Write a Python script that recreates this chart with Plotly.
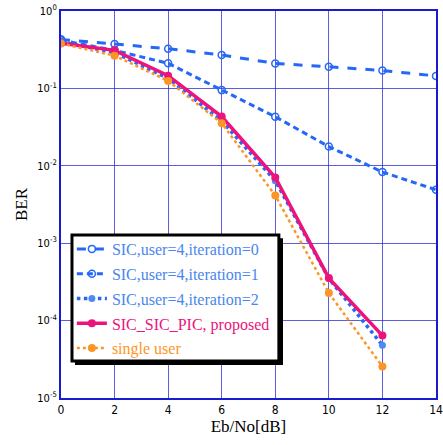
import plotly.graph_objects as go

x_full = [0, 2, 4, 6, 8, 10, 12, 14]
x_short = [0, 2, 4, 6, 8, 10, 12]
iter0 = [0.43, 0.375, 0.326, 0.27, 0.21, 0.19, 0.17, 0.145]
iter1 = [0.42, 0.31, 0.211, 0.095, 0.043, 0.0177, 0.0083, 0.0049]
iter2 = [0.40, 0.29, 0.135, 0.038, 0.0064, 3.5e-4, 4.8e-5]
proposed = [0.383, 0.31, 0.146, 0.0432, 0.00705, 3.54e-4, 6.4e-5]
single = [0.38, 0.265, 0.125, 0.0355, 0.00413, 2.27e-4, 2.55e-5]
names = ["SIC,user=4,iteration=0", "SIC,user=4,iteration=1", "SIC,user=4,iteration=2",
         "SIC_SIC_PIC, proposed", "single user"]

x_ticks = [0, 2, 4, 6, 8, 10, 12, 14]
y_ticks = [1, 1e-1, 1e-2, 1e-3, 1e-4, 1e-5]
y_ticktext = ["10<sup>0</sup>", "10<sup>-1</sup>", "10<sup>-2</sup>",
              "10<sup>-3</sup>", "10<sup>-4</sup>", "10<sup>-5</sup>"]

BLUE = "#2468f5"
BLUE_TXT = "#4a86f0"
PINK = "#ec137c"
ORANGE = "#fd9526"
GRID = "rgba(40,40,210,0.75)"


def lab(text, color):
    return f"<span style='color:{color}'>{text}</span>"


fig = go.Figure()
fig.add_trace(go.Scatter(x=x_full, y=iter0, mode="lines+markers",
                         name=lab(names[0], BLUE_TXT), legendgroup="a",
                         line=dict(color=BLUE, width=3, dash="dash"),
                         marker=dict(symbol="circle-open", size=7, color=BLUE, line=dict(width=1.5))))
fig.add_trace(go.Scatter(x=x_full, y=iter1, mode="lines+markers",
                         name=lab(names[1], BLUE_TXT), legendgroup="b",
                         line=dict(color=BLUE, width=3, dash="6px,4px"),
                         marker=dict(symbol="circle-open", size=7, color=BLUE, line=dict(width=1.5))))
fig.add_trace(go.Scatter(x=x_short, y=iter2, mode="lines+markers",
                         name=lab(names[2], BLUE_TXT), legendgroup="c",
                         line=dict(color=BLUE, width=3.5, dash="dot"),
                         marker=dict(symbol="circle", size=7, color="#4f88f7")))
fig.add_trace(go.Scatter(x=x_short, y=proposed, mode="lines+markers",
                         name=lab(names[3], PINK), legendgroup="d",
                         line=dict(color=PINK, width=3.5),
                         marker=dict(symbol="circle", size=8, color=PINK)))
fig.add_trace(go.Scatter(x=x_short, y=single, mode="lines+markers",
                         name=lab(names[4], ORANGE), legendgroup="e",
                         line=dict(color=ORANGE, width=2.5, dash="dot"),
                         marker=dict(symbol="circle", size=8, color=ORANGE)))

# legend box drawn as shapes: drop shadow + white framed box
fig.add_shape(type="rect", xref="paper", yref="paper",
              x0=0.0373, x1=0.592, y0=0.0853, y1=0.413,
              fillcolor="black", line=dict(width=0), layer="above")
fig.add_shape(type="rect", xref="paper", yref="paper",
              x0=0.0293, x1=0.581, y0=0.0956, y1=0.421,
              fillcolor="white", line=dict(width=3, color="black"), layer="above")

fig.update_layout(
    width=443, height=445,
    margin=dict(l=61, r=7, t=11, b=47),
    paper_bgcolor="white", plot_bgcolor="white",
    showlegend=True,
    legend=dict(x=0.029, y=0.429, xanchor="left", yanchor="top",
                bgcolor="rgba(0,0,0,0)", borderwidth=0,
                font=dict(family="Liberation Serif", size=16),
                tracegroupgap=1, itemwidth=30),
    xaxis=dict(range=[0, 14], tickvals=x_ticks, showgrid=True, gridcolor=GRID, gridwidth=1.2,
               automargin=False,
               zeroline=False, showline=True, linecolor="#1a1ad0", linewidth=2, mirror=True,
               tickfont=dict(family="DejaVu Sans Condensed", size=12, color="black"),
               title=dict(text="Eb/No[dB]", font=dict(family="Liberation Serif", size=17, color="black"),
                          standoff=3)),
    yaxis=dict(type="log", range=[-5, 0], tickvals=y_ticks, ticktext=y_ticktext,
               showgrid=True, gridcolor=GRID, gridwidth=1.2,
               automargin=False,
               zeroline=False, showline=True, linecolor="#1a1ad0", linewidth=2, mirror=True,
               tickfont=dict(family="DejaVu Sans Condensed", size=11, color="black"),
               title=dict(text="BER", font=dict(family="Liberation Serif", size=17, color="black"),
                          standoff=5)),
)

fig.write_html("out.html", config={"displayModeBar": False},
               post_script="document.body.style.margin='0';")
